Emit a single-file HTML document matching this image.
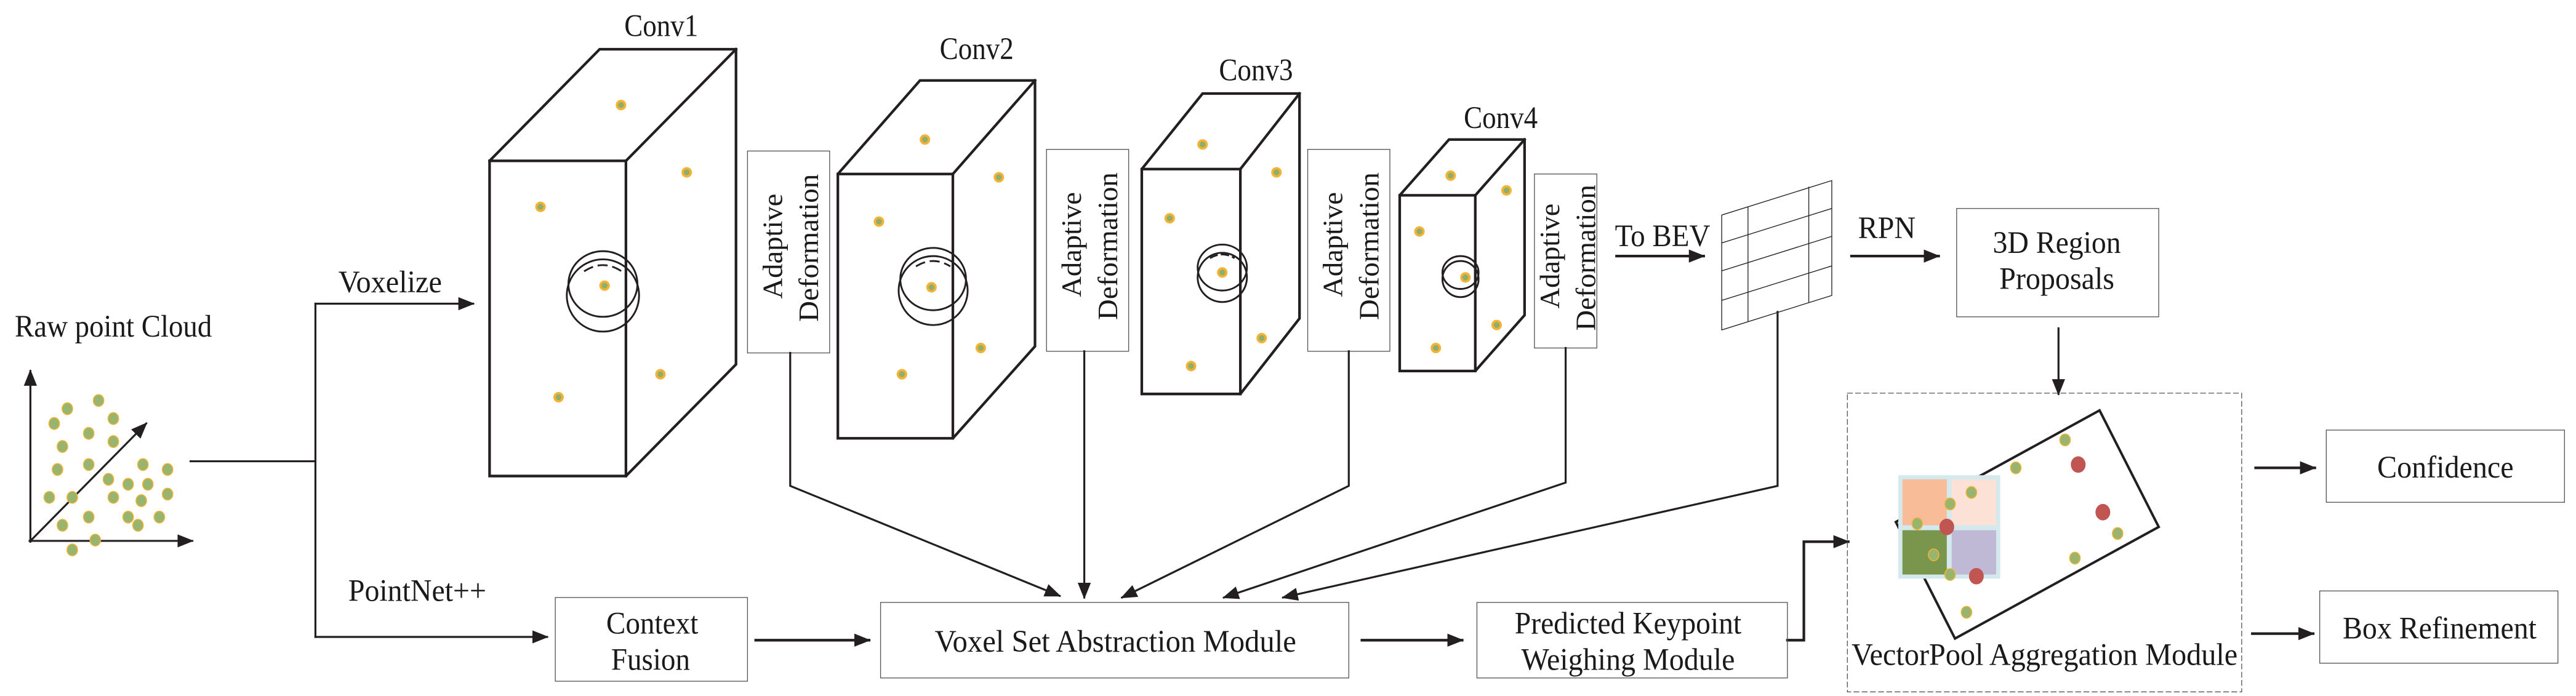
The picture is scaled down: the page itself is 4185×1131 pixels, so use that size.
<!DOCTYPE html>
<html><head><meta charset="utf-8"><style>
html,body{margin:0;padding:0;background:#fff;}
svg{display:block;}
text{font-family:"Liberation Serif",serif;fill:#1a1a1a;}
.ad{font-family:"Liberation Serif",serif;font-size:17px;}
</style></head><body>
<svg width="4185" height="1131" viewBox="0 0 1568 424" preserveAspectRatio="none" xmlns="http://www.w3.org/2000/svg">
<defs>
<marker id="ah" markerUnits="userSpaceOnUse" markerWidth="10" markerHeight="8" refX="9" refY="4" orient="auto"><path d="M0,0 L10,4 L0,8 z" fill="#231f20"/></marker>
<g id="dot"><circle r="3.2" fill="#f5b335"/><circle r="1.8" fill="#8fae6a"/></g>
<g id="gd"><ellipse rx="3.2" ry="3.6" fill="#97b56e" stroke="#f5b335" stroke-width="0.6"/></g>
</defs>
<g stroke="#231f20" fill="none" stroke-linecap="square">
<line x1="18.5" y1="330" x2="18.5" y2="226" stroke-width="1.2" marker-end="url(#ah)"/>
<line x1="18" y1="329.5" x2="117" y2="329.5" stroke-width="1.2" marker-end="url(#ah)"/>
<line x1="19" y1="329" x2="89" y2="258" stroke-width="1.2" marker-end="url(#ah)"/>
<line x1="116" y1="281" x2="192" y2="281" stroke-width="1.2"/>
<line x1="192" y1="185" x2="192" y2="388" stroke-width="1.2"/>
<line x1="192" y1="185" x2="288" y2="185" stroke-width="1.2" marker-end="url(#ah)"/>
<line x1="192" y1="388" x2="333" y2="388" stroke-width="1.2" marker-end="url(#ah)"/>
<g stroke-width="1.6">
<polygon points="298,98 365,30 448,30 448,222 381,290 298,290"/>
<line x1="298" y1="98" x2="381" y2="98"/><line x1="381" y1="98" x2="448" y2="30"/><line x1="381" y1="98" x2="381" y2="290"/>
<polygon points="510,106 560,49 630,49 630,211 580,267 510,267"/>
<line x1="510" y1="106" x2="580" y2="106"/><line x1="580" y1="106" x2="630" y2="49"/><line x1="580" y1="106" x2="580" y2="267"/>
<polygon points="695,103 732,57 791,57 791,194 755,240 695,240"/>
<line x1="695" y1="103" x2="755" y2="103"/><line x1="755" y1="103" x2="791" y2="57"/><line x1="755" y1="103" x2="755" y2="240"/>
<polygon points="852,119 882,85 928,85 928,192 898,226 852,226"/>
<line x1="852" y1="119" x2="898" y2="119"/><line x1="898" y1="119" x2="928" y2="85"/><line x1="898" y1="119" x2="898" y2="226"/>
</g>
<g stroke-width="1.1">
<ellipse cx="367" cy="173" rx="21" ry="20"/><ellipse cx="367" cy="180" rx="22" ry="22"/>
<path d="M356,165 Q367,158 378,165" stroke-dasharray="5,4"/>
<ellipse cx="568" cy="170" rx="20" ry="19"/><ellipse cx="568" cy="177" rx="21" ry="21"/>
<path d="M558,162 Q568,156 578,162" stroke-dasharray="5,4"/>
<ellipse cx="744" cy="163" rx="15" ry="14"/><ellipse cx="744" cy="169" rx="15" ry="15"/>
<path d="M737,157 Q744,153 751,157" stroke-dasharray="4,3"/>
<ellipse cx="889" cy="166" rx="11" ry="10"/><ellipse cx="889" cy="170" rx="11" ry="11"/>
</g>
<g stroke="#555" stroke-width="0.5">
<rect x="455" y="92" width="50" height="123"/>
<rect x="637" y="91" width="50" height="123"/>
<rect x="796" y="91" width="50" height="123"/>
<rect x="934" y="106" width="38" height="106"/>
</g>
<g stroke-width="1.2">
<polyline points="481,215 481,296 645,363" marker-end="url(#ah)"/>
<line x1="660" y1="214" x2="660" y2="364" marker-end="url(#ah)"/>
<polyline points="821,214 821,296 683,364" marker-end="url(#ah)"/>
<polyline points="953,212 953,294 745,364" marker-end="url(#ah)"/>
<polyline points="1082,190 1082,296 781,364" marker-end="url(#ah)"/>
<line x1="984" y1="156" x2="1037" y2="156" stroke-width="1.6" marker-end="url(#ah)"/>
<line x1="1127" y1="156" x2="1180" y2="156" stroke-width="1.6" marker-end="url(#ah)"/>
<line x1="1253" y1="200" x2="1253" y2="240" marker-end="url(#ah)"/>
<line x1="460" y1="390" x2="529" y2="390" stroke-width="1.6" marker-end="url(#ah)"/>
<line x1="829" y1="390" x2="890" y2="390" stroke-width="1.6" marker-end="url(#ah)"/>
<polyline points="1088,390 1098,390 1098,330 1125,330" stroke-width="1.6" marker-end="url(#ah)"/>
<line x1="1373" y1="285" x2="1409" y2="285" stroke-width="1.6" marker-end="url(#ah)"/>
<line x1="1371" y1="386" x2="1408" y2="386" stroke-width="1.6" marker-end="url(#ah)"/>
</g>
<g stroke-width="0.5">
<polygon points="1048,131 1115,110 1115,180 1048,201"/>
<line x1="1064" y1="126" x2="1064" y2="196"/>
<line x1="1101" y1="114" x2="1101" y2="184"/>
<line x1="1048" y1="148" x2="1115" y2="127"/>
<line x1="1048" y1="165" x2="1115" y2="144"/>
<line x1="1048" y1="183" x2="1115" y2="162"/>
</g>
<g stroke="#555" stroke-width="0.5">
<rect x="338" y="364" width="117" height="51"/>
<rect x="536" y="367" width="285" height="46"/>
<rect x="899" y="367" width="189" height="46"/>
<rect x="1191" y="127" width="123" height="66"/>
<rect x="1416" y="262" width="145" height="44"/>
<rect x="1412" y="360" width="145" height="44"/>
<rect x="1124.5" y="239.5" width="240" height="182" stroke-dasharray="3,2"/>
</g>
<polygon points="1278,250 1314,321 1190,389 1154,318" stroke-width="1.5"/>
</g>
<rect x="1155.5" y="289.5" width="62" height="63" fill="#d3e9ee"/>
<rect x="1158" y="292" width="27" height="28" fill="#f8bc98"/>
<rect x="1188" y="292" width="27" height="28" fill="#fce2d6"/>
<rect x="1158" y="323" width="27" height="27" fill="#7a954c"/>
<rect x="1188" y="323" width="27" height="27" fill="#bfb9d5"/>
<g fill="#c05552">
<ellipse cx="1265" cy="283" rx="4.5" ry="5"/><ellipse cx="1280" cy="312" rx="4.5" ry="5"/>
<ellipse cx="1185" cy="321" rx="4.5" ry="5"/><ellipse cx="1203" cy="351" rx="4.5" ry="5"/>
</g>
<use href="#gd" x="1257" y="268"/><use href="#gd" x="1227" y="285"/><use href="#gd" x="1200" y="300"/>
<use href="#gd" x="1187" y="307"/><use href="#gd" x="1167" y="319"/><use href="#gd" x="1177" y="338"/>
<use href="#gd" x="1187" y="350"/><use href="#gd" x="1289" y="325"/><use href="#gd" x="1263" y="340"/>
<use href="#gd" x="1197" y="373"/>
<g>
<use href="#gd" x="60" y="244"/><use href="#gd" x="41" y="249"/><use href="#gd" x="69" y="255"/><use href="#gd" x="33" y="258"/>
<use href="#gd" x="54" y="264"/><use href="#gd" x="69" y="269"/><use href="#gd" x="38" y="272"/><use href="#gd" x="35" y="286"/>
<use href="#gd" x="54" y="283"/><use href="#gd" x="87" y="283"/><use href="#gd" x="102" y="286"/><use href="#gd" x="66" y="292"/>
<use href="#gd" x="78" y="295"/><use href="#gd" x="90" y="295"/><use href="#gd" x="30" y="303"/><use href="#gd" x="44" y="303"/>
<use href="#gd" x="69" y="303"/><use href="#gd" x="86" y="305"/><use href="#gd" x="102" y="301"/><use href="#gd" x="54" y="315"/>
<use href="#gd" x="78" y="315"/><use href="#gd" x="97" y="315"/><use href="#gd" x="38" y="320"/><use href="#gd" x="84" y="320"/>
<use href="#gd" x="58" y="329"/><use href="#gd" x="44" y="335"/>
</g>
<use href="#dot" x="378" y="64"/><use href="#dot" x="418" y="105"/><use href="#dot" x="329" y="126"/><use href="#dot" x="368" y="174"/><use href="#dot" x="402" y="228"/><use href="#dot" x="340" y="242"/>
<use href="#dot" x="563" y="85"/><use href="#dot" x="608" y="108"/><use href="#dot" x="535" y="135"/><use href="#dot" x="567" y="175"/><use href="#dot" x="597" y="212"/><use href="#dot" x="549" y="228"/>
<use href="#dot" x="732" y="88"/><use href="#dot" x="777" y="105"/><use href="#dot" x="712" y="133"/><use href="#dot" x="744" y="166"/><use href="#dot" x="768" y="206"/><use href="#dot" x="725" y="223"/>
<use href="#dot" x="883" y="107"/><use href="#dot" x="917" y="116"/><use href="#dot" x="864" y="141"/><use href="#dot" x="892" y="169"/><use href="#dot" x="911" y="198"/><use href="#dot" x="874" y="212"/>
<g font-size="19">
<text x="9" y="205" textLength="120" lengthAdjust="spacingAndGlyphs">Raw point Cloud</text>
<text x="206" y="178" textLength="63" lengthAdjust="spacingAndGlyphs">Voxelize</text>
<text x="212" y="366" textLength="84" lengthAdjust="spacingAndGlyphs">PointNet++</text>
<text x="380" y="22" textLength="45" lengthAdjust="spacingAndGlyphs">Conv1</text>
<text x="572" y="36" textLength="45" lengthAdjust="spacingAndGlyphs">Conv2</text>
<text x="742" y="49" textLength="45" lengthAdjust="spacingAndGlyphs">Conv3</text>
<text x="891" y="78" textLength="45" lengthAdjust="spacingAndGlyphs">Conv4</text>
<text x="983" y="150" textLength="58" lengthAdjust="spacingAndGlyphs">To BEV</text>
<text x="1131" y="145" textLength="35" lengthAdjust="spacingAndGlyphs">RPN</text>
<text x="1213" y="154" textLength="78" lengthAdjust="spacingAndGlyphs">3D Region</text>
<text x="1217" y="176" textLength="70" lengthAdjust="spacingAndGlyphs">Proposals</text>
<text x="369" y="386" textLength="56" lengthAdjust="spacingAndGlyphs">Context</text>
<text x="372" y="408" textLength="48" lengthAdjust="spacingAndGlyphs">Fusion</text>
<text x="569" y="397" textLength="220" lengthAdjust="spacingAndGlyphs">Voxel Set Abstraction Module</text>
<text x="922" y="386" textLength="138" lengthAdjust="spacingAndGlyphs">Predicted Keypoint</text>
<text x="926" y="408" textLength="130" lengthAdjust="spacingAndGlyphs">Weighing Module</text>
<text x="1127" y="405" textLength="235" lengthAdjust="spacingAndGlyphs">VectorPool Aggregation Module</text>
<text x="1447" y="291" textLength="83" lengthAdjust="spacingAndGlyphs">Confidence</text>
<text x="1426" y="389" textLength="118" lengthAdjust="spacingAndGlyphs">Box Refinement</text>
</g>
<g class="ad">
<text transform="translate(476,150) rotate(-90)" text-anchor="middle" textLength="64" lengthAdjust="spacingAndGlyphs">Adaptive</text>
<text transform="translate(498,151) rotate(-90)" text-anchor="middle" textLength="90" lengthAdjust="spacingAndGlyphs">Deformation</text>
<text transform="translate(658,149) rotate(-90)" text-anchor="middle" textLength="64" lengthAdjust="spacingAndGlyphs">Adaptive</text>
<text transform="translate(680,150) rotate(-90)" text-anchor="middle" textLength="90" lengthAdjust="spacingAndGlyphs">Deformation</text>
<text transform="translate(817,149) rotate(-90)" text-anchor="middle" textLength="64" lengthAdjust="spacingAndGlyphs">Adaptive</text>
<text transform="translate(839,150) rotate(-90)" text-anchor="middle" textLength="90" lengthAdjust="spacingAndGlyphs">Deformation</text>
<text transform="translate(949,156) rotate(-90)" text-anchor="middle" textLength="64" lengthAdjust="spacingAndGlyphs">Adaptive</text>
<text transform="translate(971,157) rotate(-90)" text-anchor="middle" textLength="89" lengthAdjust="spacingAndGlyphs">Deformation</text>
</g>
</svg>
</body></html>
